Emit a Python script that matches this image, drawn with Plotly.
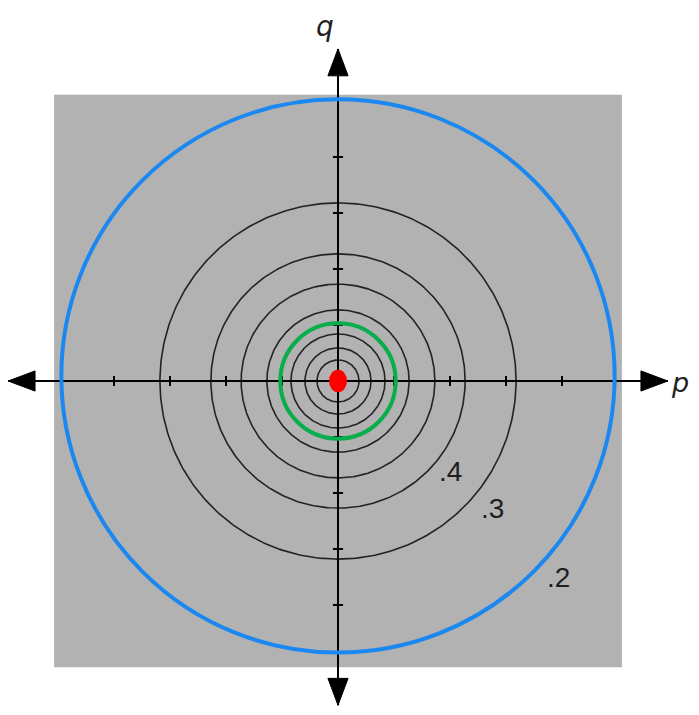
import numpy as np
import plotly.graph_objects as go

# ---- data (units: one tick = 1) ----
contour_radii = [3.18, 2.27, 1.73, 1.27, 0.84, 0.59, 0.375]
contour_labels = [".4", ".3", ".2"]
label_x = [2.0, 2.75, 3.94]
label_y = [-1.62, -2.27, -3.5]
tick_values = [-4, -3, -2, -1, 1, 2, 3, 4]
blue_radius = 4.94
blue_center = [0.0, 0.09]
green_radius = 1.03
red_rx, red_ry = 0.16, 0.2
square_half = [5.07, 5.11]
axis_left_right = [-5.89, 5.89]
axis_bottom_top = [-5.79, 5.93]
axis_names = ["p", "q"]

UNIT = 56.0
OFF = 8  # page body margin
W, H = 699 - 2 * OFF, 715 - 2 * OFF
CX, CY = 338 - OFF, 381 - OFF
xr = [-CX / UNIT, (W - CX) / UNIT]
yr = [-(H - CY) / UNIT, CY / UNIT]

fig = go.Figure()
shapes = []

# gray background square
shapes.append(dict(type="rect", xref="x", yref="y",
                   x0=-square_half[0], x1=square_half[0],
                   y0=-square_half[1], y1=square_half[1],
                   fillcolor="rgb(178,178,178)", line=dict(width=0), layer="below"))

theta = np.linspace(0, 2 * np.pi, 361)
for r in contour_radii:
    fig.add_trace(go.Scatter(x=r * np.cos(theta), y=r * np.sin(theta), mode="lines",
                             line=dict(color="rgb(35,35,35)", width=1.6),
                             hoverinfo="skip", showlegend=False))

# axes lines
fig.add_trace(go.Scatter(x=axis_left_right, y=[0, 0], mode="lines",
                         line=dict(color="black", width=2), hoverinfo="skip", showlegend=False))
fig.add_trace(go.Scatter(x=[0, 0], y=axis_bottom_top, mode="lines",
                         line=dict(color="black", width=2), hoverinfo="skip", showlegend=False))

# tick marks
tl = 0.09
tx, ty = [], []
for t in tick_values:
    tx += [t, t, None]; ty += [-tl, tl, None]
    tx += [-tl, tl, None]; ty += [t, t, None]
fig.add_trace(go.Scatter(x=tx, y=ty, mode="lines", line=dict(color="black", width=2),
                         hoverinfo="skip", showlegend=False))

# arrowheads
L, hw = 0.48, 0.18
def tri(tip, d):
    tx_, ty_ = tip
    dx, dy = d
    bx, by = tx_ - dx * L, ty_ - dy * L
    px, py = -dy * hw, dx * hw
    return f"M {tx_} {ty_} L {bx + px} {by + py} L {bx - px} {by - py} Z"
for tip, d in [((axis_left_right[1], 0), (1, 0)), ((axis_left_right[0], 0), (-1, 0)),
               ((0, axis_bottom_top[1]), (0, 1)), ((0, axis_bottom_top[0]), (0, -1))]:
    shapes.append(dict(type="path", xref="x", yref="y", path=tri(tip, d),
                       fillcolor="black", line=dict(color="black", width=1)))

# blue circle
shapes.append(dict(type="circle", xref="x", yref="y",
                   x0=blue_center[0] - blue_radius, x1=blue_center[0] + blue_radius,
                   y0=blue_center[1] - blue_radius, y1=blue_center[1] + blue_radius,
                   line=dict(color="#1a88f0", width=4)))
# green circle
shapes.append(dict(type="circle", xref="x", yref="y",
                   x0=-green_radius, x1=green_radius, y0=-green_radius, y1=green_radius,
                   line=dict(color="#08ad4c", width=4)))
# red dot
shapes.append(dict(type="circle", xref="x", yref="y",
                   x0=-red_rx, x1=red_rx, y0=-red_ry, y1=red_ry,
                   fillcolor="#ff0000", line=dict(width=0)))

annotations = []
for t, x, y in zip(contour_labels, label_x, label_y):
    annotations.append(dict(x=x, y=y, xref="x", yref="y", text=t, showarrow=False,
                            font=dict(family="Liberation Sans", size=28, color="#1e1e1e")))
annotations.append(dict(x=1, y=1 - (CY + 1) / H, xref="paper", yref="paper",
                        xanchor="right", yanchor="middle",
                        text="<i>" + axis_names[0] + "</i>", showarrow=False,
                        font=dict(family="DejaVu Sans", size=27, color="#222")))
annotations.append(dict(x=(325 - 338) / UNIT, y=1, xref="x", yref="paper",
                        yanchor="top",
                        text="<i>" + axis_names[1] + "</i>", showarrow=False,
                        font=dict(family="DejaVu Sans", size=28, color="#222")))

fig.update_layout(
    width=W, height=H, autosize=False,
    margin=dict(l=0, r=0, t=0, b=0, pad=0),
    paper_bgcolor="#ffffff", plot_bgcolor="#ffffff",
    xaxis=dict(range=xr, visible=False, fixedrange=True),
    yaxis=dict(range=yr, visible=False, fixedrange=True),
    shapes=shapes, annotations=annotations, showlegend=False,
)
fig.write_html("out.html")
